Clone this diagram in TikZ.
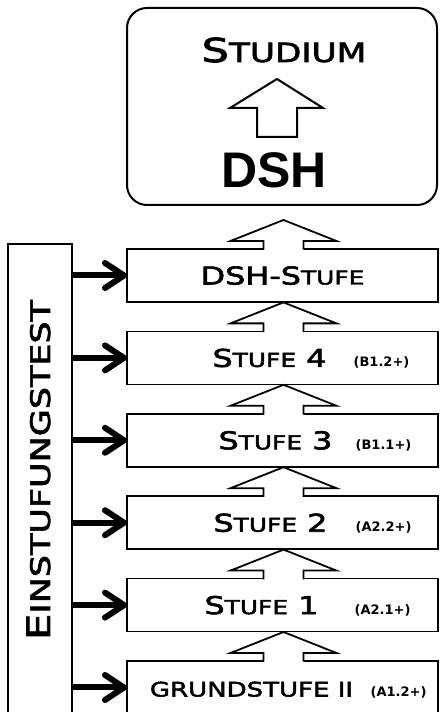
\documentclass[tikz,border=0pt]{standalone}
\usepackage{fontspec}
\setmainfont{DejaVu Sans}
\newfontfamily\platefont[FakeStretch=1.3,FakeBold=2.5]{DejaVu Sans}
\newfontfamily\dshfont{Liberation Sans}
\usetikzlibrary{arrows.meta}
\makeatletter
\newcommand{\sk}[3][0.78]{#2{\fontsize{\fpeval{#1*\f@size}}{0}\selectfont #3}}
\makeatother

\begin{document}
\begin{tikzpicture}[x=1pt,y=1pt,
  stagebox/.style={draw,line width=1.5pt,minimum width=311pt,minimum height=53pt,inner sep=0pt,outer sep=0pt},
  stagetext/.style={font=\platefont\fontsize{24.5}{26}\selectfont,anchor=base,inner sep=0pt},
  cefr/.style={font=\bfseries\fontsize{13}{15}\selectfont,anchor=base,inner sep=0pt},
  feed/.style={line width=6pt,-{Straight Barb[length=19pt,width=25pt,round]}},
  stepup/.pic={
    \fill[white] (-20,-1) rectangle (20,8);
    \draw[line width=1.8pt] (-20,-0.75) -- (-20,8) -- (-53,8) -- (0,29) -- (53,8) -- (20,8) -- (20,-0.75);
  }]
\useasboundingbox (0,0) rectangle (439,712);
% top box
\node[draw,line width=2pt,rounded corners=20pt,minimum width=310pt,minimum height=197pt,outer sep=0pt] (top) at (282,605.5) {};
\node[font=\platefont\fontsize{33}{35}\selectfont,anchor=base,inner sep=0pt] (studium) at (284,650) {\sk[0.8]{S}{TUDIUM}};
\node[font=\dshfont\bfseries\fontsize{50}{52}\selectfont,anchor=base,inner sep=0pt] (dsh) at (274,524) {DSH};
\draw[line width=2pt] (257,575) -- (257,604) -- (230,604) -- (277,633) -- (323,604) -- (297,604) -- (297,575) -- cycle;
% stages
\node[stagebox] (ds) at (282.5,436.5) {};
\node[stagetext] (ds t) at ([yshift=-9pt]ds.center) {\sk{DSH-S}{TUFE}};
\foreach \name/\dx/\txt/\ldx/\lvl [count=\k] in {
  s4/-13/{\sk{S}{TUFE} 4}/99/{(B1.2+)},
  s3/-7/{\sk{S}{TUFE} 3}/101/{(B1.1+)},
  s2/-12/{\sk{S}{TUFE} 2}/101/{(A2.2+)},
  s1/-21/{\sk{S}{TUFE} 1}/100/{(A2.1+)},
  g2/-31/{\fontsize{20}{22}\selectfont GRUNDSTUFE II}/116/{(A1.2+)}} {
  \node[stagebox] (\name) at (282.5,436.5-82.4*\k) {};
  \node[stagetext] (\name t) at ([xshift=\dx pt,yshift=-9pt]\name.center) {\txt};
  \node[cefr] (\name l) at ([xshift=\ldx pt,yshift=-9pt]\name.center) {\lvl};
}
\foreach \b in {ds,s4,s3,s2,s1,g2}
  \pic at ([xshift=1pt]\b.north) {stepup};
% placement test
\node[draw,line width=2pt,minimum width=64pt,minimum height=472pt,outer sep=0pt] (test) at (40,232) {};
\node[rotate=90,font=\platefont\fontsize{32}{34}\selectfont,inner sep=0pt] (test t) at (38.5,242) {\sk[0.84]{E}{INSTUFUNGSTEST}};
\foreach \b in {ds,s4,s3,s2,s1,g2}
  \draw[feed] (test.east |- \b.west) -- (\b.west);
\end{tikzpicture}
\end{document}
